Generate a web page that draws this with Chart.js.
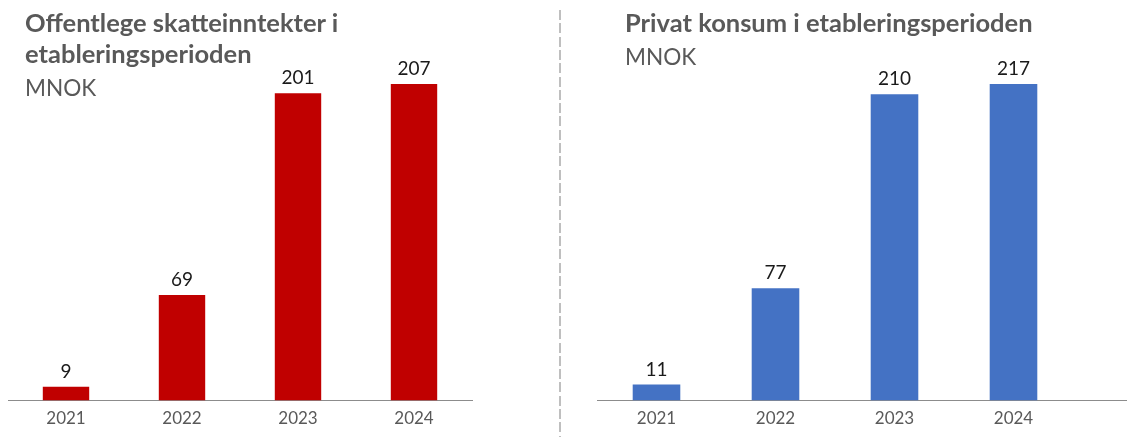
<!DOCTYPE html>
<html>
<head>
<meta charset="utf-8">
<script src="https://cdn.jsdelivr.net/npm/chart.js@4.4.1/dist/chart.umd.min.js"></script>
<style>
  html, body { margin:0; padding:0; background:#fff; width:1127px; height:437px; overflow:hidden; position:relative; }
  .title { position:absolute; font-family: Lato, "Open Sans", sans-serif; color:#595959; white-space:nowrap; }
  .t-bold { font-weight:700; font-size:25.5px; line-height:31px; }
  .t-unit { font-weight:400; font-size:22.6px; line-height:38.5px; }
  #sep { position:absolute; left:559px; top:10px; width:2px; height:427px;
         background: repeating-linear-gradient(to bottom, #bfbfbf 0px, #bfbfbf 10px, transparent 10px, transparent 13.3px); }
  canvas { position:absolute; top:0; }
</style>
</head>
<body>
<div id="sep"></div>
<canvas id="c1" style="left:0px" width="480" height="437"></canvas>
<canvas id="c2" style="left:580px" width="547" height="437"></canvas>
<div class="title" style="left:25px; top:7px;">
  <div class="t-bold">Offentlege skatteinntekter i<br>etableringsperioden</div>
  <div class="t-unit">MNOK</div>
</div>
<div class="title" style="left:625px; top:7px;">
  <div class="t-bold">Privat konsum i etableringsperioden</div>
  <div class="t-unit">MNOK</div>
</div>
<script>
const years = ['2021', '2022', '2023', '2024'];
const skatteinntekter = [9, 69, 201, 207];
const privatKonsum = [11, 77, 210, 217];

const FONT = 'Lato, "Open Sans", sans-serif';

const valueLabels = {
  id: 'valueLabels',
  afterDatasetsDraw(chart) {
    const ctx = chart.ctx;
    const meta = chart.getDatasetMeta(0);
    const data = chart.data.datasets[0].data;
    ctx.save();
    ctx.font = '19px ' + FONT;
    ctx.fillStyle = '#1a1a1a';
    ctx.textAlign = 'center';
    ctx.textBaseline = 'alphabetic';
    meta.data.forEach((bar, i) => {
      ctx.fillText(String(data[i]), bar.x, bar.y - 9);
    });
    ctx.restore();
  }
};

const axisExtend = {
  id: 'axisExtend',
  afterDraw(chart, args, opts) {
    if (!opts.extend) return;
    const a = chart.chartArea;
    const ctx = chart.ctx;
    const y = Math.round(a.bottom - 0.5) + 0.5;
    ctx.save();
    ctx.strokeStyle = '#8c8c8c';
    ctx.lineWidth = 1;
    ctx.beginPath();
    ctx.moveTo(a.right - 1, y);
    ctx.lineTo(chart.width, y);
    ctx.stroke();
    ctx.restore();
  }
};

function makeChart(id, values, color, yMax, padLeft, padRight, extend) {
  return new Chart(document.getElementById(id), {
    type: 'bar',
    data: {
      labels: years,
      datasets: [{
        data: values,
        backgroundColor: color,
        borderWidth: 0,
        barPercentage: 0.4,
        categoryPercentage: 1.0
      }]
    },
    options: {
      responsive: false,
      animation: false,
      devicePixelRatio: 1,
      layout: { padding: { top: 40, left: padLeft, right: padRight, bottom: 0 } },
      plugins: {
        legend: { display: false },
        tooltip: { enabled: false },
        axisExtend: { extend: extend }
      },
      scales: {
        x: {
          grid: { display: false, drawTicks: false },
          border: { display: true, color: '#8c8c8c', width: 1 },
          ticks: { color: '#595959', font: { family: FONT, size: 17 }, padding: 8 }
        },
        y: {
          display: false,
          min: 0,
          max: yMax
        }
      }
    },
    plugins: [valueLabels, axisExtend]
  });
}

makeChart('c1', skatteinntekter, '#C00000', 235.8, 8, 8, false);
makeChart('c2', privatKonsum, '#4472C4', 247.2, 17, 54, true);
</script>
</body>
</html>
